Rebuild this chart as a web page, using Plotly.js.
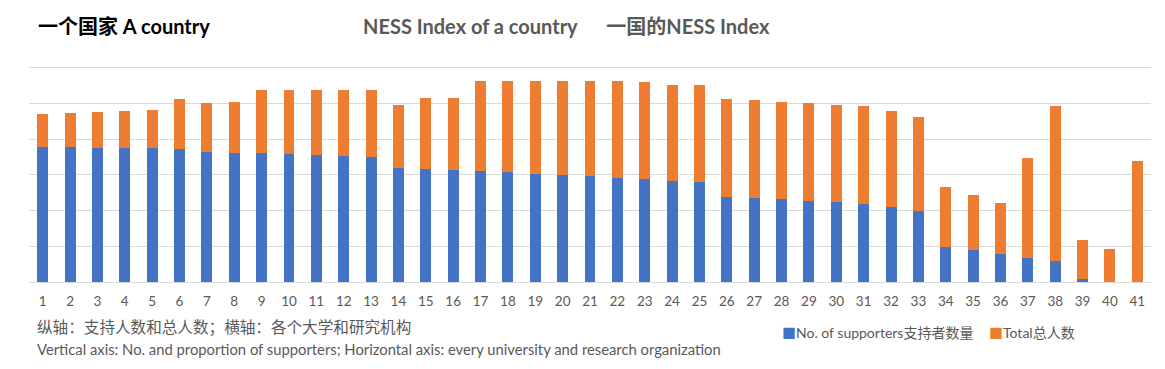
<!DOCTYPE html>
<html>
<head>
<meta charset="utf-8">
<script src="https://cdn.plot.ly/plotly-3.0.1.min.js"></script>
<style>html,body{margin:0;padding:0;background:#fff;}#chart{width:1165px;height:369px;}</style>
</head>
<body>
<div id="chart"></div>
<script>
const categories = ["1","2","3","4","5","6","7","8","9","10","11","12","13","14","15","16","17","18","19","20","21","22","23","24","25","26","27","28","29","30","31","32","33","34","35","36","37","38","39","40","41"];
const supporters = [37.8,37.8,37.5,37.5,37.5,37.2,36.4,36.1,36.1,35.8,35.5,35.2,35.0,31.9,31.6,31.3,31.1,30.8,30.2,29.9,29.7,29.1,28.8,28.3,28.0,23.8,23.5,23.3,22.7,22.4,21.9,21.0,19.9,9.8,9.0,7.9,6.8,5.9,0.9,0,0];
const total = [9.2,9.5,10.0,10.3,10.6,14.0,13.6,14.2,17.8,18.1,18.4,18.5,18.7,17.6,19.8,20.1,25.3,25.6,26.2,26.5,26.7,27.1,27.1,27.0,27.1,27.4,27.4,27.0,27.3,27.1,27.3,26.8,26.2,16.8,15.4,14.3,27.9,43.3,10.9,9.3,33.9];
const seriesNames = ["No. of supporters支持者数量", "Total总人数"];
const seriesColors = ["#4472c4", "#ed7d31"];

const FONT = "Lato, 'Noto Sans CJK SC', sans-serif";
const GRAY = "#595959";

const traces = [
  {type:"bar", name:seriesNames[0], x:categories, y:supporters, marker:{color:seriesColors[0]}, width:0.4, hoverinfo:"y"},
  {type:"bar", name:seriesNames[1], x:categories, y:total, marker:{color:seriesColors[1]}, width:0.4, hoverinfo:"y"}
];

const TOP = 65.5, BOT = 282.3, H = BOT - TOP;
const px = v => (v-29)/1122;
const py = v => (BOT-v)/H;

const layout = {
  width:1165, height:369,
  margin:{l:29, r:14, t:TOP, b:369-BOT},
  paper_bgcolor:"#fff", plot_bgcolor:"#fff",
  barmode:"stack",
  showlegend:false,
  font:{family:FONT, color:GRAY},
  xaxis:{type:"category", tickfont:{family:FONT, size:13.5, color:GRAY}, ticks:"", ticklabelstandoff:9, showgrid:false, showline:false, zeroline:false, range:[-0.5,40.5], fixedrange:true},
  yaxis:{range:[0,60.5], dtick:10, showticklabels:false, showgrid:true, gridcolor:"#d9d9d9", gridwidth:1, zeroline:true, zerolinecolor:"#d9d9d9", zerolinewidth:1, fixedrange:true},
  annotations:[
    {xref:"paper", yref:"paper", x:px(36), y:py(25), xanchor:"left", yanchor:"middle", showarrow:false, text:"<b>一个国家 A country</b>", font:{family:FONT, size:20, color:"#000"}},
    {xref:"paper", yref:"paper", x:px(361), y:py(25), xanchor:"left", yanchor:"middle", showarrow:false, text:"<b>NESS Index of a country      一国的NESS Index</b>", font:{family:FONT, size:20, color:GRAY}},
    {xref:"paper", yref:"paper", x:px(35), y:py(328), xanchor:"left", yanchor:"middle", showarrow:false, text:"纵轴：支持人数和总人数；横轴：各个大学和研究机构", font:{family:FONT, size:15.6, color:GRAY}},
    {xref:"paper", yref:"paper", x:px(35), y:py(350), xanchor:"left", yanchor:"middle", showarrow:false, text:"Vertical axis: No. and proportion of supporters; Horizontal axis: every university and research organization", font:{family:FONT, size:14.8, color:GRAY}},
    {xref:"paper", yref:"paper", x:px(780), y:py(333), xanchor:"left", yanchor:"middle", showarrow:false, text:'<span style="color:'+seriesColors[0]+'">■</span>'+seriesNames[0], font:{family:FONT, size:14, color:GRAY}},
    {xref:"paper", yref:"paper", x:px(987), y:py(333), xanchor:"left", yanchor:"middle", showarrow:false, text:'<span style="color:'+seriesColors[1]+'">■</span>'+seriesNames[1], font:{family:FONT, size:14, color:GRAY}}
  ]
};

Plotly.newPlot("chart", traces, layout, {displayModeBar:false, staticPlot:true});
</script>
</body>
</html>
